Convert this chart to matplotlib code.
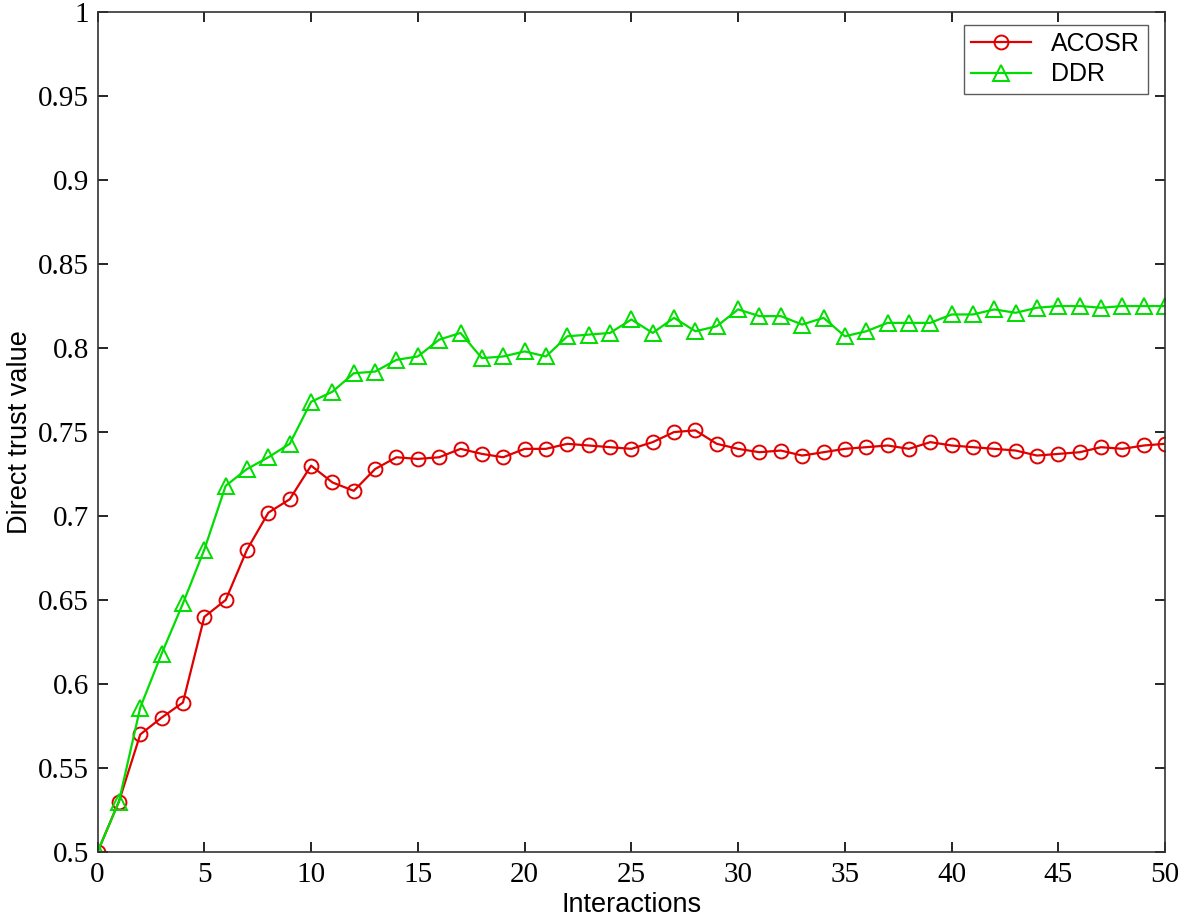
import numpy as np
import matplotlib.pyplot as plt

interactions = np.arange(0, 51)

acosr = [0.500, 0.530, 0.570, 0.580, 0.589, 0.640, 0.650, 0.680, 0.702, 0.710,
         0.730, 0.720, 0.715, 0.728, 0.735, 0.734, 0.735, 0.740, 0.737, 0.735,
         0.740, 0.740, 0.743, 0.742, 0.741, 0.740, 0.744, 0.750, 0.751, 0.743,
         0.740, 0.738, 0.739, 0.736, 0.738, 0.740, 0.741, 0.742, 0.740, 0.744,
         0.742, 0.741, 0.740, 0.739, 0.736, 0.737, 0.738, 0.741, 0.740, 0.742,
         0.743]

ddr = [0.500, 0.530, 0.586, 0.618, 0.648, 0.680, 0.718, 0.728, 0.735, 0.743,
       0.768, 0.774, 0.785, 0.786, 0.793, 0.795, 0.805, 0.809, 0.794, 0.795,
       0.798, 0.795, 0.807, 0.808, 0.809, 0.817, 0.809, 0.818, 0.810, 0.813,
       0.823, 0.819, 0.819, 0.814, 0.818, 0.807, 0.810, 0.815, 0.815, 0.815,
       0.820, 0.820, 0.823, 0.821, 0.824, 0.825, 0.825, 0.824, 0.825, 0.825,
       0.825]

fig = plt.figure(figsize=(11.81, 9.22), dpi=100)
ax = fig.add_axes([0.0826, 0.0759, 0.904, 0.911])

ax.plot(interactions, acosr, color='#e00000', marker='o', markersize=10,
        markerfacecolor='none', markeredgewidth=1.4, linewidth=1.6, label='ACOSR')
ax.plot(interactions, ddr, color='#00dd00', marker='^', markersize=11,
        markerfacecolor='none', markeredgewidth=1.4, linewidth=1.6, label='DDR')

ax.set_xlim(0, 50)
ax.set_ylim(0.5, 1.0)
ax.set_xticks(np.arange(0, 51, 5))
ax.set_yticks(np.arange(0.5, 1.001, 0.05))
ax.set_yticklabels(['0.5', '0.55', '0.6', '0.65', '0.7', '0.75', '0.8',
                    '0.85', '0.9', '0.95', '1'])
ax.tick_params(direction='in', top=True, right=True, length=7, width=1.2,
               labelsize=21)
ax.tick_params(axis='y', pad=6)
ax.tick_params(axis='x', pad=7)
for lab in ax.get_xticklabels() + ax.get_yticklabels():
    lab.set_family('Liberation Serif')
for sp in ax.spines.values():
    sp.set_linewidth(1.2)
    sp.set_color('#333333')

ax.set_xlabel('Interactions', family='Liberation Sans', fontsize=19.5, labelpad=3)
ax.set_ylabel('Direct trust value', family='Liberation Sans', fontsize=19.5, labelpad=4)

leg = ax.legend(loc='upper right', bbox_to_anchor=(0.9835, 0.985), fancybox=False,
                edgecolor='#333333', prop={'family': 'Liberation Sans', 'size': 18},
                borderaxespad=0, handlelength=2.4, borderpad=0.3, labelspacing=0.25)
leg.get_frame().set_linewidth(1.0)

fig.savefig('out.png', dpi=100)
